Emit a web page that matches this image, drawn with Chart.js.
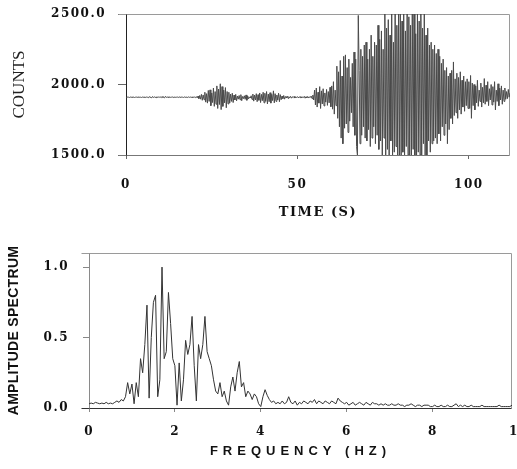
<!DOCTYPE html>
<html><head><meta charset="utf-8">
<script src="https://cdn.jsdelivr.net/npm/chart.js@4/dist/chart.umd.min.js"></script>
<style>
html,body{margin:0;padding:0;background:#fff;width:517px;height:469px;overflow:hidden}
#c1{position:absolute;left:0;top:0}
#c2{position:absolute;left:0;top:230px}
</style></head><body>
<canvas id="c1" width="517" height="230"></canvas>
<canvas id="c2" width="517" height="239"></canvas>
<script>
// ---- Seismogram (sampled every 0.25 s from 0 to 112 s) ----
const SAMPLE_STEP_S = 0.25;
const counts = [
 1910,1909,1911,1910,1908,1911,1910,1909,1912,1910,1908,1910,1911,1909,1910,1912,1909,1910,1908,1911,
 1910,1909,1912,1908,1911,1910,1906,1914,1909,1911,1905,1915,1908,1912,1910,1907,1913,1909,1911,1910,
 1912,1906,1914,1908,1911,1905,1916,1909,1910,1912,1908,1911,1909,1910,1912,1908,1910,1911,1909,1910,
 1911,1908,1912,1910,1909,1911,1910,1908,1912,1909,1910,1911,1908,1912,1909,1911,1910,1908,1913,1909,
 1911,1907,1914,1905,1918,1900,1922,1896,1930,1888,1926,1892,1945,1875,1935,1868,1958,1880,1962,1850,
 1940,1872,1975,1845,1950,1860,1990,1830,1968,1858,2005,1822,1985,1845,1960,1870,1978,1835,1950,1862,
 1945,1868,1932,1880,1938,1872,1925,1890,1930,1884,1918,1896,1922,1892,1928,1885,1915,1900,1920,1895,
 1926,1888,1918,1898,1912,1904,1920,1894,1932,1882,1925,1890,1935,1878,1928,1888,1940,1872,1930,1885,
 1945,1870,1938,1880,1950,1862,1932,1878,1942,1868,1930,1886,1955,1870,1935,1880,1925,1890,1938,1878,
 1928,1892,1918,1900,1922,1896,1915,1904,1918,1902,1914,1906,1916,1903,1913,1907,1915,1904,1912,1908,
 1914,1905,1913,1907,1915,1904,1912,1908,1916,1903,1913,1906,1915,1904,1912,1908,1918,1900,1925,1890,
 1960,1855,1975,1840,1945,1868,1985,1830,1955,1862,1970,1848,1940,1875,1965,1852,1950,1870,1980,1842,
 1990,1825,2020,1790,1960,1850,2130,1760,2090,1700,2170,1620,2060,1580,2200,1690,2210,1720,2120,1660,
 2180,1740,2050,1800,2150,1700,2230,1640,2180,1560,1500,2490,2100,1580,2250,1640,2200,1700,2280,1620,
 2300,1600,2180,1680,2250,1560,2350,1620,2200,1700,2300,1580,2280,1640,2420,1540,2320,1600,2380,1500,
 2250,1620,2500,1500,2400,1540,2460,1500,2350,1600,2500,1500,2300,1520,2500,1560,2420,1500,2500,1500,
 2500,1500,2450,1520,2500,1500,2380,1560,2500,1500,2480,1500,2420,1500,2500,1540,2500,1500,2360,1500,
 2500,1520,2450,1500,2500,1500,2400,1580,2500,1500,2350,1500,2400,1600,2280,1520,2300,1580,2250,1600,
 2280,1620,2220,1580,2250,1650,2200,1600,2150,1700,2180,1640,2100,1720,2120,1580,2060,1680,2080,1760,
 2100,1720,2160,1780,2040,1800,2080,1760,2050,1820,2090,1790,2030,1840,2060,1810,2020,1850,2040,1830,
 2020,1830,2064,1760,2010,1850,2000,1820,1990,1870,2030,1845,1960,1880,2010,1840,1980,1870,2042,1860,
 1995,1880,2020,1850,1970,1890,2000,1855,1985,1875,2020,1820,1960,1880,2005,1850,1975,1890,1990,1860,
 1960,1880,1975,1895,1950,1900,1965,1910,1940
];
const times = counts.map((_, i) => i * SAMPLE_STEP_S);
const countTicks = [1500, 2000, 2500];
const timeTicks = [0, 50, 100];

// ---- Amplitude spectrum (every 0.05 Hz from 0 to 9.85 Hz) ----
const FREQ_STEP_HZ = 0.05;
const amplitude = [
 0.03,0.035,0.03,0.04,0.035,0.03,0.035,0.03,0.04,0.03,0.035,0.03,0.04,0.05,0.04,0.06,0.05,0.08,0.18,0.10,
 0.17,0.03,0.18,0.08,0.35,0.25,0.45,0.73,0.07,0.50,0.75,0.80,0.08,0.20,1.00,0.35,0.40,0.82,0.60,0.35,
 0.30,0.02,0.32,0.05,0.20,0.48,0.38,0.45,0.65,0.30,0.05,0.45,0.35,0.45,0.65,0.40,0.35,0.30,0.20,0.12,
 0.10,0.18,0.08,0.12,0.05,0.02,0.15,0.22,0.12,0.25,0.33,0.15,0.18,0.08,0.12,0.10,0.06,0.10,0.08,0.03,
 0.01,0.08,0.13,0.09,0.06,0.04,0.05,0.03,0.04,0.03,0.05,0.03,0.04,0.08,0.04,0.03,0.05,0.02,0.04,0.03,
 0.05,0.04,0.03,0.05,0.04,0.06,0.03,0.05,0.04,0.03,0.05,0.04,0.03,0.05,0.04,0.03,0.07,0.05,0.04,0.03,
 0.04,0.02,0.03,0.04,0.02,0.03,0.04,0.03,0.02,0.04,0.03,0.02,0.04,0.03,0.03,0.02,0.03,0.02,0.03,0.02,
 0.02,0.03,0.02,0.02,0.03,0.02,0.02,0.01,0.02,0.02,0.03,0.02,0.01,0.02,0.02,0.01,0.02,0.02,0.02,0.01,
 0.01,0.02,0.01,0.01,0.02,0.01,0.01,0.02,0.01,0.01,0.02,0.03,0.01,0.02,0.01,0.02,0.01,0.01,0.02,0.01,
 0.01,0.01,0.01,0.02,0.01,0.01,0.01,0.01,0.01,0.01,0.01,0.02,0.01,0.01,0.01,0.01,0.01,0.02
];
const freqs = amplitude.map((_, i) => +(i * FREQ_STEP_HZ).toFixed(2));
const ampTicks = [0, 0.5, 1.0];
const freqTicks = [0, 2, 4, 6, 8, 10];

// ---- helpers ----
function wrapSpacing(scale, fnName, spacing) {
  const key = '_sp_' + fnName;
  if (scale[key]) return;
  const orig = scale[fnName].bind(scale);
  scale[fnName] = function (...args) {
    const c = this.ctx; const prev = c.letterSpacing;
    c.letterSpacing = spacing; orig(...args); c.letterSpacing = prev;
  };
  scale[key] = true;
}
function spacingPlugin(spec) {
  return { id: 'spacing', beforeDraw(chart) {
    for (const id in spec) {
      const s = chart.scales[id];
      if (spec[id].labels) wrapSpacing(s, 'drawLabels', spec[id].labels);
      if (spec[id].title) wrapSpacing(s, 'drawTitle', spec[id].title);
    }
  }};
}
function framePlugin(leftColor, bottomColor) {
  return { id: 'frame', beforeDatasetsDraw(chart) {
    const { ctx, chartArea: a } = chart;
    const L = Math.round(a.left) + 0.5, R = Math.round(a.right) - 0.5;
    const T = Math.round(a.top) + 0.5, B = Math.round(a.bottom) + 0.5;
    ctx.save();
    ctx.lineWidth = 1;
    ctx.strokeStyle = '#9a9a9a';
    ctx.beginPath(); ctx.moveTo(L - 8, T); ctx.lineTo(R, T); ctx.lineTo(R, B); ctx.stroke();
    ctx.strokeStyle = bottomColor;
    ctx.beginPath(); ctx.moveTo(L - 8, B); ctx.lineTo(R, B); ctx.stroke();
    ctx.strokeStyle = leftColor;
    ctx.beginPath(); ctx.moveTo(L, T); ctx.lineTo(L, B); ctx.stroke();
    ctx.restore();
  }};
}
function fixedTicks(values) {
  return (axis) => { axis.ticks = values.map(v => ({ value: v })); };
}

const serifBold = { family: "'DejaVu Serif', serif", weight: 'bold', size: 12 };

// ---- Top chart: seismogram ----
new Chart(document.getElementById('c1'), {
  type: 'line',
  data: { labels: times, datasets: [{ data: counts, borderColor: '#4a4a4a', borderWidth: 1, pointRadius: 0, tension: 0 }] },
  options: {
    responsive: false, animation: false, events: [],
    layout: { padding: { top: 14, right: 7, left: 0, bottom: 0 } },
    plugins: { legend: { display: false }, tooltip: { enabled: false } },
    scales: {
      x: {
        type: 'linear', min: 0, max: 112,
        afterBuildTicks: fixedTicks(timeTicks),
        afterFit(s) { s.height = 75; s.paddingLeft = 0; s.paddingRight = 0; },
        ticks: { color: '#111', font: serifBold, padding: 19, maxRotation: 0, autoSkip: false },
        grid: { drawOnChartArea: false, drawTicks: true, tickLength: 4, color: '#666' },
        border: { display: false },
        title: { display: true, text: 'TIME (S)', color: '#111', font: { family: "'DejaVu Serif', serif", weight: 'bold', size: 13 }, padding: { top: 0, bottom: 10 } }
      },
      y: {
        type: 'linear', min: 1500, max: 2500,
        afterBuildTicks: fixedTicks(countTicks),
        afterFit(s) { s.width = 126; s.paddingTop = 0; s.paddingBottom = 0; },
        ticks: { color: '#111', font: serifBold, padding: 12, callback: v => v.toFixed(1) },
        grid: { drawOnChartArea: false, drawTicks: true, tickLength: 8, color: '#666' },
        border: { display: false },
        title: { display: true, text: 'COUNTS', color: '#222', font: { family: "'Liberation Serif', serif", size: 17 }, padding: { top: 9, bottom: 0 } }
      }
    }
  },
  plugins: [framePlugin('#222', '#777'), spacingPlugin({ x: { labels: '1.5px', title: '1.5px' }, y: { labels: '1.5px' } })]
});

// ---- Bottom chart: amplitude spectrum ----
new Chart(document.getElementById('c2'), {
  type: 'line',
  data: { labels: freqs, datasets: [{ data: amplitude, borderColor: '#333', borderWidth: 1, pointRadius: 0, tension: 0 }] },
  options: {
    responsive: false, animation: false, events: [],
    layout: { padding: { top: 23, right: 5, left: 0, bottom: 0 } },
    plugins: { legend: { display: false }, tooltip: { enabled: false } },
    scales: {
      x: {
        type: 'linear', min: 0, max: 9.85,
        afterBuildTicks: fixedTicks(freqTicks),
        afterFit(s) { s.height = 239 - 178; s.paddingLeft = 0; s.paddingRight = 0; },
        ticks: { color: '#111', font: serifBold, padding: 13, maxRotation: 0, autoSkip: false },
        grid: { drawOnChartArea: false, drawTicks: true, tickLength: 4, color: '#888' },
        border: { display: false },
        title: { display: true, text: 'FREQUENCY (HZ)', color: '#111', font: { family: "'Liberation Sans', Arial, sans-serif", weight: 'bold', size: 13 }, padding: { top: 0, bottom: 10 } }
      },
      y: {
        type: 'linear', min: 0, max: 1.1,
        afterBuildTicks: fixedTicks(ampTicks),
        afterFit(s) { s.width = 89; s.paddingTop = 0; s.paddingBottom = 0; },
        ticks: { color: '#111', font: serifBold, padding: 14, callback: v => v.toFixed(1) },
        grid: { drawOnChartArea: false, drawTicks: true, tickLength: 6, color: '#888' },
        border: { display: false },
        title: { display: true, text: 'AMPLITUDE SPECTRUM', color: '#111', font: { family: "'Liberation Sans', Arial, sans-serif", weight: 'bold', size: 14 }, padding: { top: 6, bottom: 0 } }
      }
    }
  },
  plugins: [framePlugin('#8a8a8a', '#333'), spacingPlugin({ x: { labels: '1px', title: '5px' }, y: { labels: '1.5px', title: '0.3px' } })]
});
</script></body></html>
